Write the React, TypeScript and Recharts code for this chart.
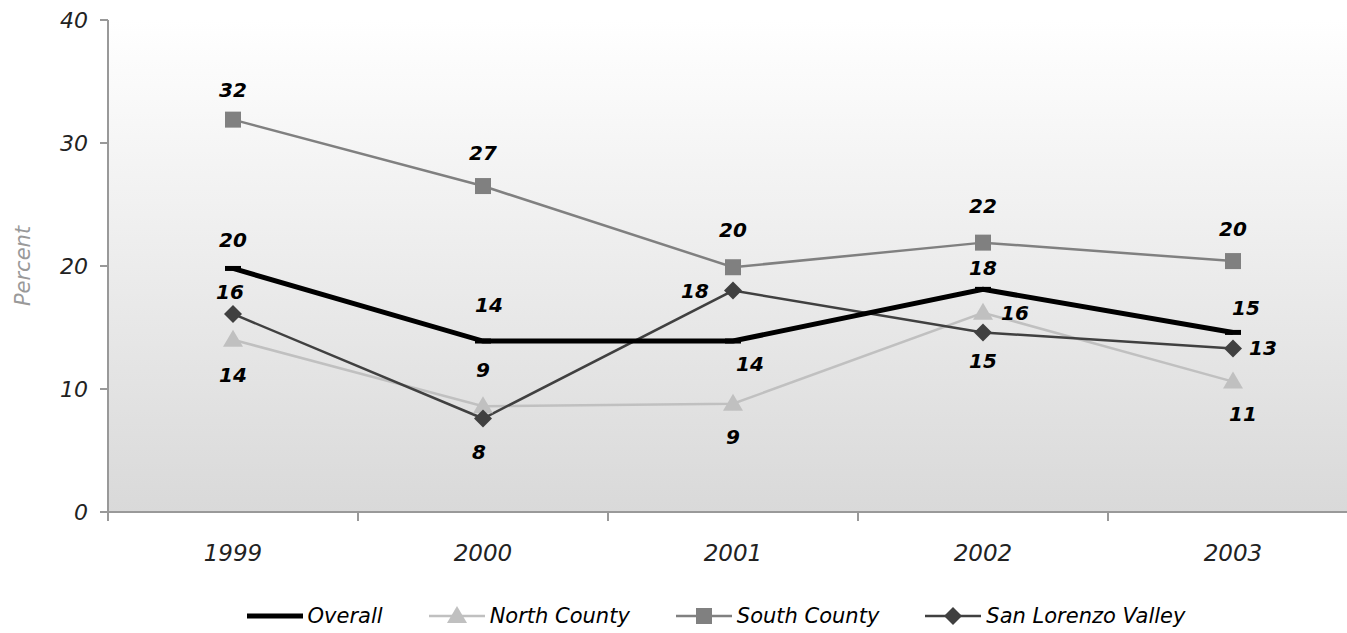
import { LineChart, Line, XAxis, YAxis, CartesianGrid, Legend, LabelList } from "recharts";

const years = ["1999", "2000", "2001", "2002", "2003"];
const overall = [19.8, 13.9, 13.9, 18.1, 14.6];
const northCounty = [14.0, 8.6, 8.8, 16.2, 10.6];
const southCounty = [31.9, 26.5, 19.9, 21.9, 20.4];
const sanLorenzo = [16.1, 7.6, 18.0, 14.6, 13.3];
const yTicks = [0, 10, 20, 30, 40];

const data = years.map((year, i) => ({
  year,
  overall: overall[i],
  north: northCounty[i],
  south: southCounty[i],
  slv: sanLorenzo[i],
}));

const FONT = "'DejaVu Sans', sans-serif";

// label offsets (dx, dy) per point, matched to the original placement
const labelOffsets: Record<string, [number, number][]> = {
  overall: [[0, -28], [6, -36], [17, 23], [0, -21], [13, -24]],
  north: [[0, 35], [0, -36], [0, 33], [32, 0], [10, 32]],
  south: [[0, -30], [0, -33], [0, -37], [0, -37], [0, -32]],
  slv: [[-3, -22], [-4, 33], [-38, 0], [0, 29], [30, 0]],
};

const makeLabel = (key: string) => (props: any) => {
  const { x, y, value, index } = props;
  const [dx, dy] = labelOffsets[key][index];
  return (
    <text
      x={x + dx}
      y={y + dy}
      textAnchor="middle"
      dominantBaseline="central"
      fontFamily={FONT}
      fontSize={20}
      fontStyle="italic"
      fontWeight="bold"
      fill="#000"
    >
      {Math.round(value)}
    </text>
  );
};

const DashDot = (props: any) => {
  const { cx, cy } = props;
  return <line x1={cx - 8} x2={cx + 8} y1={cy} y2={cy} stroke="#000" strokeWidth={5} />;
};

const Triangle = ({ cx, cy, fill }: any) => (
  <polygon points={`${cx},${cy - 10} ${cx + 10},${cy + 7} ${cx - 10},${cy + 7}`} fill={fill} />
);

const Square = ({ cx, cy, fill }: any) => (
  <rect x={cx - 8} y={cy - 8} width={16} height={16} fill={fill} />
);

const Diamond = ({ cx, cy, fill }: any) => (
  <polygon points={`${cx},${cy - 9} ${cx + 9},${cy} ${cx},${cy + 9} ${cx - 9},${cy}`} fill={fill} />
);

const legendItems = [
  { name: "Overall", color: "#000", width: 5, marker: null as any },
  { name: "North County", color: "#c0c0c0", width: 2.5, marker: Triangle },
  { name: "South County", color: "#808080", width: 2.5, marker: Square },
  { name: "San Lorenzo Valley", color: "#404040", width: 2.5, marker: Diamond },
];

const LegendContent = () => (
  <div
    style={{
      display: "flex",
      justifyContent: "center",
      alignItems: "center",
      gap: 46,
      height: 34,
      fontFamily: FONT,
      fontStyle: "italic",
      fontSize: 21,
      color: "#000",
      paddingLeft: 74,
    }}
  >
    {legendItems.map((item) => {
      const M = item.marker;
      return (
        <div key={item.name} style={{ display: "flex", alignItems: "center" }}>
          <svg width={56} height={20} style={{ marginRight: 5 }}>
            <line x1={0} x2={56} y1={10} y2={10} stroke={item.color} strokeWidth={item.width} />
            {M && <M cx={28} cy={10} fill={item.color} />}
          </svg>
          <span>{item.name}</span>
        </div>
      );
    })}
  </div>
);

// year label at the band centre, tick mark at the band's left edge
const YearTick = (props: any) => {
  const { x, y, payload, width, visibleTicksCount } = props;
  const band = width && visibleTicksCount ? width / visibleTicksCount : 250;
  return (
    <g>
      <line x1={x - band / 2} x2={x - band / 2} y1={y} y2={y + 9} stroke="#999" strokeWidth={2} />
      <text x={x} y={y + 41} textAnchor="middle" dominantBaseline="central" fontFamily={FONT} fontSize={23} fontStyle="italic" fill="#222">
        {payload.value}
      </text>
    </g>
  );
};

export default function App() {
  return (
    <div style={{ position: "absolute", left: 0, top: 0, width: 1347, height: 633, overflow: "hidden", background: "#fff" }}>
      <LineChart width={1360} height={633} data={data} margin={{ top: 20, right: 2, left: 0, bottom: 0 }}>
        <defs>
          <linearGradient id="plotBg" x1="0" y1="0" x2="0" y2="1">
            <stop offset="0%" stopColor="#ffffff" />
            <stop offset="100%" stopColor="#d9d9d9" />
          </linearGradient>
        </defs>
        <CartesianGrid horizontal={false} vertical={false} fill="url(#plotBg)" />
        <XAxis
          dataKey="year"
          scale="band"
          interval={0}
          stroke="#999"
          strokeWidth={2}
          tickLine={false}
          tickSize={0}
          tickMargin={0}
          tick={<YearTick />}
          height={87}
        />
        <YAxis
          domain={[0, 40]}
          ticks={yTicks}
          interval={0}
          width={108}
          tickSize={8}
          stroke="#999"
          strokeWidth={2}
          tick={{ fontFamily: FONT, fontSize: 22, fontStyle: "italic", fill: "#222", dx: -10 }}
          label={{
            value: "Percent",
            angle: -90,
            position: "insideLeft",
            dx: 18,
            style: { fontFamily: FONT, fontSize: 21, fontStyle: "italic", fill: "#999", textAnchor: "middle" },
          }}
        />
        <Legend verticalAlign="bottom" content={<LegendContent />} />
        <Line dataKey="north" stroke="#c0c0c0" strokeWidth={2.5} isAnimationActive={false}
          dot={(p: any) => <Triangle key={p.index} cx={p.cx} cy={p.cy} fill="#c0c0c0" />}>
          <LabelList dataKey="north" content={makeLabel("north")} />
        </Line>
        <Line dataKey="south" stroke="#808080" strokeWidth={2.5} isAnimationActive={false}
          dot={(p: any) => <Square key={p.index} cx={p.cx} cy={p.cy} fill="#808080" />}>
          <LabelList dataKey="south" content={makeLabel("south")} />
        </Line>
        <Line dataKey="slv" stroke="#404040" strokeWidth={2.5} isAnimationActive={false}
          dot={(p: any) => <Diamond key={p.index} cx={p.cx} cy={p.cy} fill="#404040" />}>
          <LabelList dataKey="slv" content={makeLabel("slv")} />
        </Line>
        <Line dataKey="overall" stroke="#000" strokeWidth={5} isAnimationActive={false}
          dot={(p: any) => <DashDot key={p.index} cx={p.cx} cy={p.cy} />}>
          <LabelList dataKey="overall" content={makeLabel("overall")} />
        </Line>
      </LineChart>
    </div>
  );
}
